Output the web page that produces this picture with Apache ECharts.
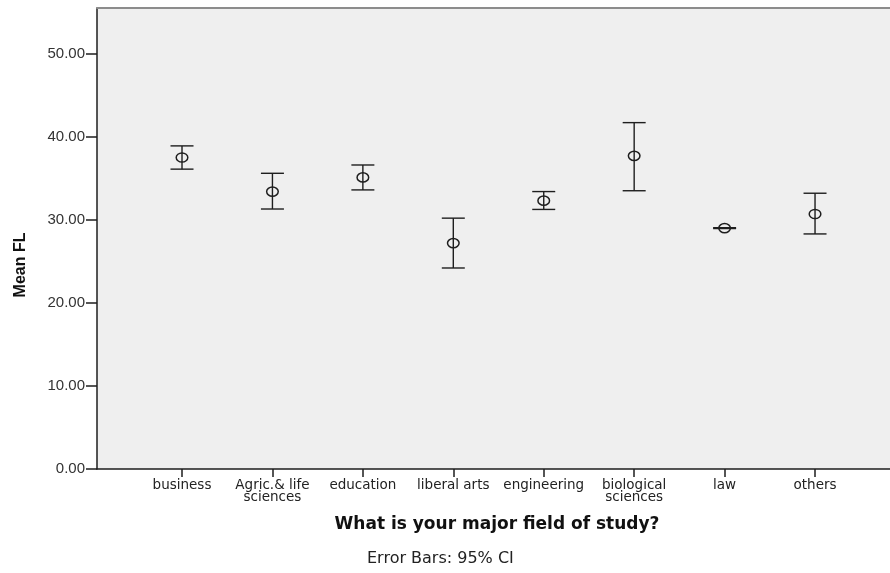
<!DOCTYPE html>
<html>
<head>
<meta charset="utf-8">
<script src="https://cdn.jsdelivr.net/npm/echarts@6/dist/echarts.min.js"></script>
<style>
html,body{margin:0;padding:0;background:#fff;}
#chart{width:890px;height:573px;}
</style>
</head>
<body>
<div id="chart"></div>
<script>
var categories = ['business', 'Agric.& life\nsciences', 'education', 'liberal arts', 'engineering', 'biological\nsciences', 'law', 'others'];
var means = [37.5, 33.4, 35.1, 27.2, 32.3, 37.7, 29.0, 30.7];
var lower = [36.1, 31.3, 33.6, 24.2, 31.25, 33.5, 28.95, 28.3];
var upper = [38.9, 35.6, 36.6, 30.2, 33.4, 41.7, 29.05, 33.2];
var yTicks = [0, 10, 20, 30, 40, 50];
var catIndex = [0, 1, 2, 3, 4, 5, 6, 7];

var data = categories.map(function (c, i) { return [i, means[i], lower[i], upper[i]]; });

var chart = echarts.init(document.getElementById('chart'));
chart.setOption({
  backgroundColor: '#ffffff',
  animation: false,
  title: {
    text: 'Error Bars: 95% CI',
    left: 367,
    top: 551,
    padding: 0,
    textStyle: { fontFamily: 'DejaVu Sans', fontSize: 16, fontWeight: 'normal', color: '#222' }
  },
  grid: {
    left: 97, right: 0, top: 8, bottom: 104,
    show: true, backgroundColor: '#efefef', borderWidth: 0
  },
  xAxis: [{
    type: 'value',
    min: -0.94, max: 7.829,
    splitLine: { show: false },
    axisLine: { show: true, onZero: false, lineStyle: { color: '#1e1e1e', width: 1.5 } },
    axisTick: { show: true, length: 8, customValues: catIndex, lineStyle: { color: '#1e1e1e', width: 1.5 } },
    axisLabel: {
      customValues: catIndex,
      margin: 10,
      formatter: function (v) { return categories[Math.round(v)]; },
      fontFamily: 'DejaVu Sans', fontSize: 13.5, lineHeight: 12, color: '#222', align: 'center'
    },
    name: 'What is your major field of study?',
    nameLocation: 'middle',
    nameGap: 47,
    nameTextStyle: { fontFamily: 'DejaVu Sans', fontWeight: 'bold', fontSize: 17, color: '#111', padding: [0, 0, 0, 7] }
  }, {
    type: 'value',
    position: 'top',
    min: -0.94, max: 7.829,
    splitLine: { show: false },
    axisLine: { show: true, onZero: false, lineStyle: { color: '#8c8c8c', width: 2 } },
    axisTick: { show: false },
    axisLabel: { show: false }
  }],
  yAxis: {
    type: 'value',
    min: 0, max: 55.5,
    splitLine: { show: false },
    axisLine: { show: true, onZero: false, lineStyle: { color: '#1e1e1e', width: 1.5 } },
    axisTick: { show: true, length: 11, customValues: yTicks, lineStyle: { color: '#1e1e1e', width: 1.5 } },
    axisLabel: {
      customValues: yTicks,
      margin: 12,
      formatter: function (v) { return v.toFixed(2); },
      fontFamily: 'Liberation Sans', fontSize: 15, color: '#333'
    },
    name: 'Mean FL',
    nameLocation: 'middle',
    nameGap: 68,
    nameRotate: 90,
    nameTextStyle: { fontFamily: 'Liberation Sans', fontWeight: 'bold', fontSize: 16, color: '#111', padding: [0, 53, 0, 0] }
  },
  series: [{
    type: 'custom',
    data: data,
    encode: { x: 0, y: [1, 2, 3] },
    renderItem: function (params, api) {
      var x = api.value(0);
      var pm = api.coord([x, api.value(1)]);
      var pl = api.coord([x, api.value(2)]);
      var ph = api.coord([x, api.value(3)]);
      var hw = 11.5;
      var st = { stroke: '#1e1e1e', lineWidth: 1.4, fill: null };
      return {
        type: 'group',
        children: [
          { type: 'line', shape: { x1: pl[0], y1: pl[1], x2: ph[0], y2: ph[1] }, style: st },
          { type: 'line', shape: { x1: ph[0] - hw, y1: ph[1], x2: ph[0] + hw, y2: ph[1] }, style: st },
          { type: 'line', shape: { x1: pl[0] - hw, y1: pl[1], x2: pl[0] + hw, y2: pl[1] }, style: st },
          { type: 'ellipse', shape: { cx: pm[0], cy: pm[1], rx: 5.8, ry: 4.6 }, style: { stroke: '#1e1e1e', lineWidth: 1.5, fill: 'none' } }
        ]
      };
    }
  }]
});
</script>
</body>
</html>
